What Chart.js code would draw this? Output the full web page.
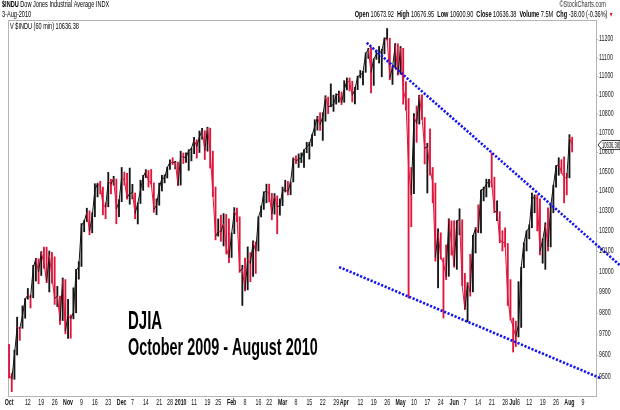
<!DOCTYPE html>
<html>
<head>
<meta charset="utf-8">
<script src="https://cdn.jsdelivr.net/npm/chart.js@4/dist/chart.umd.min.js"></script>
<style>
  html, body { margin: 0; padding: 0; background: #ffffff; }
  #wrap { width: 620px; height: 410px; position: relative; }
</style>
</head>
<body>
<div id="wrap"><canvas id="c"></canvas></div>
<script>
// Trading days (MM/DD), Oct 1 2009 - Aug 3 2010, plus a few axis-only days after the data
const dates = [
  '10/01','10/02','10/05','10/06','10/07','10/08','10/09','10/12','10/13','10/14','10/15','10/16','10/19','10/20','10/21','10/22','10/23','10/26','10/27','10/28','10/29','10/30',
  '11/02','11/03','11/04','11/05','11/06','11/09','11/10','11/11','11/12','11/13','11/16','11/17','11/18','11/19','11/20','11/23','11/24','11/25','11/27','11/30',
  '12/01','12/02','12/03','12/04','12/07','12/08','12/09','12/10','12/11','12/14','12/15','12/16','12/17','12/18','12/21','12/22','12/23','12/24','12/28','12/29','12/30','12/31',
  '01/04','01/05','01/06','01/07','01/08','01/11','01/12','01/13','01/14','01/15','01/19','01/20','01/21','01/22','01/25','01/26','01/27','01/28','01/29',
  '02/01','02/02','02/03','02/04','02/05','02/08','02/09','02/10','02/11','02/12','02/16','02/17','02/18','02/19','02/22','02/23','02/24','02/25','02/26',
  '03/01','03/02','03/03','03/04','03/05','03/08','03/09','03/10','03/11','03/12','03/15','03/16','03/17','03/18','03/19','03/22','03/23','03/24','03/25','03/26','03/29','03/30','03/31',
  '04/01','04/05','04/06','04/07','04/08','04/09','04/12','04/13','04/14','04/15','04/16','04/19','04/20','04/21','04/22','04/23','04/26','04/27','04/28','04/29','04/30',
  '05/03','05/04','05/05','05/06','05/07','05/10','05/11','05/12','05/13','05/14','05/17','05/18','05/19','05/20','05/21','05/24','05/25','05/26','05/27','05/28',
  '06/01','06/02','06/03','06/04','06/07','06/08','06/09','06/10','06/11','06/14','06/15','06/16','06/17','06/18','06/21','06/22','06/23','06/24','06/25','06/28','06/29','06/30',
  '07/01','07/02','07/06','07/07','07/08','07/09','07/12','07/13','07/14','07/15','07/16','07/19','07/20','07/21','07/22','07/23','07/26','07/27','07/28','07/29','07/30',
  '08/02','08/03','08/04','08/05','08/06','08/09'
];

const highs = [
  9650,9515,9623,9779,9730,9833,9869,9917,9885,10030,10064,10062,10097,10119,10119,10100,10093,10071,9927,9880,9968,9960,
  9864,9790,9920,10010,10047,10236,10251,10313,10300,10290,10437,10440,10450,10420,10340,10495,10460,10475,10461,10357,
  10520,10497,10490,10517,10434,10390,10340,10455,10480,10509,10505,10510,10441,10360,10440,10480,10482,10521,10560,10570,10552,10548,
  10604,10595,10595,10612,10619,10676,10663,10709,10723,10710,10729,10724,10604,10420,10259,10278,10286,10282,10260,
  10189,10316,10314,10270,10030,10065,10120,10092,10150,10145,10270,10324,10396,10435,10435,10388,10387,10375,10360,
  10420,10455,10449,10445,10570,10580,10590,10595,10612,10650,10650,10690,10768,10786,10805,10805,10895,10888,10958,10898,10905,10920,10915,
  10975,10990,10990,10972,10940,11000,11030,11025,11125,11150,11155,11093,11140,11160,11145,11207,11258,11205,11054,11176,11175,
  11160,11150,10970,10880,10520,10800,10840,10898,10900,10780,10645,10720,10520,10440,10210,10190,10066,10130,10260,10250,
  10250,10250,10310,10255,9990,9945,10084,10178,10216,10330,10405,10420,10460,10460,10595,10470,10350,10296,10200,10215,10137,9960,
  9775,9760,9950,10020,10140,10200,10230,10390,10380,10380,10360,10160,10240,10315,10330,10430,10530,10570,10560,10575,10490,
  10690,10677
];

const lows = [
  9493,9430,9487,9600,9669,9726,9774,9865,9823,9872,9953,9940,9980,10015,9945,9900,9943,9840,9830,9745,9763,9700,
  9678,9679,9771,9800,9962,10024,10195,10246,10180,10190,10270,10370,10385,10280,10260,10320,10385,10430,10235,10270,
  10346,10430,10358,10333,10360,10260,10234,10337,10403,10468,10420,10435,10292,10280,10328,10400,10441,10466,10510,10535,10513,10428,
  10430,10540,10546,10505,10554,10591,10568,10597,10666,10561,10604,10517,10372,10155,10173,10148,10125,10085,10043,
  10068,10186,10245,9995,9835,9905,9910,9950,9975,9990,10100,10269,10307,10340,10345,10255,10283,10185,10278,
  10326,10395,10380,10381,10446,10540,10520,10545,10520,10596,10563,10630,10685,10713,10712,10660,10760,10800,10836,10812,10850,10860,10848,
  10860,10926,10920,10862,10852,10927,10990,10952,11020,11095,10910,10950,11090,11070,10996,11120,11195,10980,10955,11045,11005,
  11010,10850,10819,9870,10220,10386,10650,10745,10770,10538,10390,10480,10340,10050,9920,10060,9775,9960,9976,10080,
  10020,10010,10180,9930,9816,9757,9880,9900,10090,10190,10190,10350,10370,10420,10420,10290,10250,10140,10100,10120,9835,9765,
  9614,9640,9685,9730,10018,10100,10160,10215,10290,10200,10080,10040,10010,10100,10120,10290,10420,10480,10490,10340,10380,
  10467,10600
];

const closes = [
  9509,9487,9599,9731,9725,9786,9865,9885,9871,10016,10063,9996,10092,10041,9949,10081,9972,9868,9882,9762,9962,9713,
  9789,9771,9802,10005,10023,10227,10247,10291,10198,10270,10406,10437,10426,10332,10318,10450,10434,10464,10309,10345,
  10471,10452,10366,10388,10390,10286,10337,10405,10471,10501,10452,10441,10308,10328,10414,10464,10466,10520,10547,10545,10548,10428,
  10583,10572,10573,10606,10618,10663,10627,10680,10710,10609,10725,10603,10389,10172,10196,10194,10236,10120,10067,
  10185,10297,10270,10002,10012,9908,10058,10038,10144,10099,10268,10309,10392,10402,10383,10283,10375,10321,10325,
  10404,10406,10397,10444,10567,10552,10564,10568,10611,10625,10642,10685,10733,10779,10742,10785,10888,10836,10841,10850,10895,10907,10857,
  10927,10974,10969,10897,10928,10997,11005,11019,11123,11144,11019,11092,11117,11125,11134,11204,11205,10991,11045,11167,11009,
  11151,10926,10868,10520,10380,10785,10748,10897,10782,10620,10625,10511,10444,10068,10193,10066,10043,9974,10258,10137,
  10025,10250,10256,9931,9816,9940,9899,10173,10212,10191,10405,10410,10435,10450,10443,10294,10298,10153,10144,10138,9870,9774,
  9732,9686,9744,10018,10139,10198,10216,10364,10367,10360,10098,10154,10230,10120,10322,10425,10525,10537,10497,10468,10466,
  10674,10636.38
];

// Right axis tick values
const yTicks = [9500,9600,9700,9800,9900,10000,10100,10200,10300,10400,10500,10600,10700,10800,10900,11000,11100,11200];

// Bottom axis labels: [date, label, isMonth]
const xTickLabels = [
  ['10/01','Oct',1],['10/12','12',0],['10/19','19',0],['10/26','26',0],['11/02','Nov',1],['11/09','9',0],['11/16','16',0],['11/23','23',0],
  ['12/01','Dec',1],['12/07','7',0],['12/14','14',0],['12/21','21',0],['12/28','28',0],['01/04','2010',1],['01/11','11',0],['01/19','19',0],['01/25','25',0],
  ['02/01','Feb',1],['02/08','8',0],['02/16','16',0],['02/22','22',0],['03/01','Mar',1],['03/08','8',0],['03/15','15',0],['03/22','22',0],['03/29','29',0],
  ['04/01','Apr',1],['04/12','12',0],['04/19','19',0],['04/26','26',0],['05/03','May',1],['05/10','10',0],['05/17','17',0],['05/24','24',0],
  ['06/01','Jun',1],['06/07','7',0],['06/14','14',0],['06/21','21',0],['06/28','28',0],['07/01','Jul',1],['07/06','6',0],['07/12','12',0],['07/19','19',0],['07/26','26',0],
  ['08/02','Aug',1],['08/09','9',0]
];

// Trend lines: [trading-day index, DJIA value]
const upperTrend = [[133.4, 11180], [227.9, 10029]];
const lowerTrend = [[123.1, 10021], [220.4, 9493]];

const lastClose = 10636.38;
const FONT = "'Liberation Sans', Arial, sans-serif";
const SX = 0.62;

const UP = '#151515', DOWN = '#e0163c';
const barData = closes.map((c, i) => ({ x: i, y: [lows[i], highs[i]] }));
const closeData = closes.map((c, i) => ({ x: i, y: c }));
const barColors = closes.map((c, i) => (i > 0 && c >= closes[i - 1]) ? UP : DOWN);

function txt(ctx, s, x, y, size, bold, color, align, sx) {
  ctx.save();
  ctx.font = (bold ? 'bold ' : '') + size + 'px ' + FONT;
  ctx.fillStyle = color || '#000';
  ctx.textBaseline = 'middle';
  ctx.textAlign = align || 'left';
  ctx.translate(x, y);
  ctx.scale(sx || SX, 1);
  ctx.fillText(s, 0, 0);
  ctx.restore();
}
function runWidth(ctx, parts, size, sx) {
  let w = 0;
  parts.forEach(p => { ctx.font = (p[1] ? 'bold ' : '') + size + 'px ' + FONT; w += ctx.measureText(p[0]).width * sx; });
  return w;
}
function runs(ctx, parts, x, y, size, sx) {
  let cx = x;
  parts.forEach(p => {
    ctx.font = (p[1] ? 'bold ' : '') + size + 'px ' + FONT;
    const w = ctx.measureText(p[0]).width * sx;
    txt(ctx, p[0], cx, y, size, p[1], p[2] || '#000', 'left', sx);
    cx += w;
  });
  return cx;
}

const decor = {
  id: 'decor',
  beforeDatasetsDraw(chart) {
    const { ctx, chartArea: a } = chart;
    ctx.save();
    ctx.strokeStyle = '#b4b4b4';
    ctx.lineWidth = 1;
    ctx.strokeRect(a.left + 0.5, a.top + 0.5, a.right - a.left, a.bottom - a.top);
    ctx.restore();
  },
  afterDraw(chart) {
    const { ctx, chartArea: a } = chart;
    const ys = chart.scales.y, xs = chart.scales.x;
    // header
    runs(ctx, [['$INDU ', true], ['Dow Jones Industrial Average INDX', false]], 2, 5, 9, SX);
    txt(ctx, '3-Aug-2010', 2, 15, 9, false, '#000');
    txt(ctx, '\u00A9StockCharts.com', 606, 5, 9, false, '#333', 'right');
    const hp = [['Open ', true], ['10673.92  ', false], ['High ', true], ['10676.95  ', false], ['Low ', true], ['10600.90  ', false],
                ['Close ', true], ['10636.38  ', false], ['Volume ', true], ['7.5M  ', false], ['Chg ', true], ['-38.00 (-0.36%) ', false]];
    const w = runWidth(ctx, hp, 9, SX);
    runs(ctx, hp, 609 - w, 15, 9, SX);
    txt(ctx, '\u25BC', 609, 15.5, 7, false, '#d0102c');
    txt(ctx, 'V $INDU (60 min) 10636.38', a.left + 2, 27, 9, false, '#000');

    // right axis labels
    yTicks.forEach(v => {
      const y = ys.getPixelForValue(v);
      ctx.save(); ctx.strokeStyle = '#b4b4b4'; ctx.beginPath(); ctx.moveTo(a.right, y + 0.5); ctx.lineTo(a.right + 2, y + 0.5); ctx.stroke(); ctx.restore();
      txt(ctx, String(v), a.right + 3, y, 8.5, false, '#222');
    });
    // last price tag
    const ty = ys.getPixelForValue(lastClose);
    ctx.save();
    ctx.fillStyle = '#fff'; ctx.strokeStyle = '#000'; ctx.lineWidth = 0.8;
    ctx.beginPath();
    ctx.moveTo(a.right + 2, ty); ctx.lineTo(a.right + 6, ty - 4.5); ctx.lineTo(620, ty - 4.5);
    ctx.lineTo(620, ty + 4.5); ctx.lineTo(a.right + 6, ty + 4.5); ctx.closePath();
    ctx.fill(); ctx.stroke();
    ctx.restore();
    txt(ctx, lastClose.toFixed(2), a.right + 6, ty + 0.5, 8.5, false, '#000', 'left', 0.48);

    // bottom axis labels
    xTickLabels.forEach(t => {
      const idx = dates.indexOf(t[0]);
      const x = xs.getPixelForValue(idx);
      txt(ctx, t[1], x, 403, 8.5, !!t[2], '#111', 'center');
    });

    // annotation
    txt(ctx, 'DJIA', 128, 322, 25, true, '#000', 'left', 0.6);
    txt(ctx, 'October 2009 - August 2010', 128, 348, 24, true, '#000', 'left', 0.6);
  }
};

new Chart(document.getElementById('c'), {
  data: {
    datasets: [
      {
        type: 'bar', data: barData, backgroundColor: barColors, borderWidth: 0,
        barThickness: 1.2, grouped: false, order: 3
      },
      {
        type: 'line', data: closeData, borderWidth: 1, pointRadius: 0, tension: 0, order: 2,
        borderColor: UP,
        segment: { borderColor: c => (c.p1.parsed.y >= c.p0.parsed.y ? UP : DOWN) }
      },
      {
        type: 'line', data: upperTrend.map(p => ({ x: p[0], y: p[1] })),
        borderColor: '#1414f0', borderWidth: 2.6, borderDash: [2.2, 1.6], borderCapStyle: 'butt',
        pointRadius: 0, clip: false, order: 1, tension: 0
      },
      {
        type: 'line', data: lowerTrend.map(p => ({ x: p[0], y: p[1] })),
        borderColor: '#1414f0', borderWidth: 2.6, borderDash: [2.2, 1.6], borderCapStyle: 'butt',
        pointRadius: 0, clip: false, order: 1, tension: 0
      }
    ]
  },
  options: {
    responsive: true, maintainAspectRatio: false, animation: false,
    layout: { padding: { left: 8, top: 20, right: 24, bottom: 14 } },
    plugins: { legend: { display: false }, tooltip: { enabled: false } },
    scales: {
      x: { type: 'linear', display: false, offset: false, min: -0.4, max: 218.9 },
      y: { type: 'logarithmic', display: false, offset: false, min: 9410, max: 11305 }
    }
  },
  plugins: [decor]
});
</script>
</body>
</html>
